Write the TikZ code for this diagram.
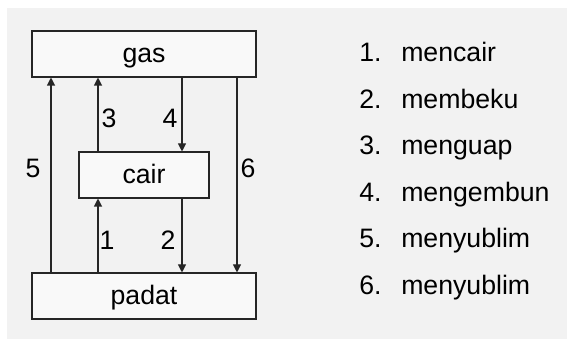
\documentclass[tikz,border=0pt]{standalone}
\usepackage{fontspec}
\setmainfont{Liberation Sans}
\usetikzlibrary{arrows.meta}
\begin{document}
\begin{tikzpicture}[x=0.75pt,y=-0.75pt,
  every node/.style={font=\fontsize{20}{24}\selectfont, inner sep=0pt},
  statebox/.style={draw=black!85, line width=0.8pt, fill=white!40!black!4, text height=13.5pt, text depth=0pt},
  flow/.style={draw=black!85, line width=0.8pt, -{Triangle[length=6pt,width=6pt]}},
  num/.style={anchor=base},
  item/.style={anchor=base west}]
\useasboundingbox (0,0) rectangle (567,341);
\fill[white] (0,0) rectangle (567,341);
\fill[black!5] (7,8) rectangle (567,339);
\node[statebox, minimum width=224*0.75pt, minimum height=46*0.75pt] (gas) at (144,54) {gas};
\node[statebox, minimum width=130*0.75pt, minimum height=46*0.75pt] (cair) at (144,175) {cair};
\node[statebox, minimum width=224*0.75pt, minimum height=46*0.75pt] (padat) at (144,296) {padat};
\coordinate (xa) at (51,0);
\coordinate (xb) at (98,0);
\coordinate (xc) at (182,0);
\coordinate (xd) at (237,0);
\draw[flow] (padat.north -| xa) -- (gas.south -| xa);
\draw[flow] (cair.north -| xb) -- (gas.south -| xb);
\draw[flow] (gas.south -| xc) -- (cair.north -| xc);
\draw[flow] (gas.south -| xd) -- (padat.north -| xd);
\draw[flow] (padat.north -| xb) -- (cair.south -| xb);
\draw[flow] (cair.south -| xc) -- (padat.north -| xc);
\node[num] (l5) at (33,178) {5};
\node[num] (l3) at (109,128) {3};
\node[num] (l4) at (170,128) {4};
\node[num] (l6) at (248,178) {6};
\node[num] (l1) at (107,250) {1};
\node[num] (l2) at (168,250) {2};
\node[item] (n1) at (359,62) {1.};
\node[item] (n2) at (359,108.5) {2.};
\node[item] (n3) at (359,155) {3.};
\node[item] (n4) at (359,201.5) {4.};
\node[item] (n5) at (359,248) {5.};
\node[item] (n6) at (359,294.5) {6.};
\node[item] (w1) at (401,62) {mencair};
\node[item] (w2) at (401,108.5) {membeku};
\node[item] (w3) at (401,155) {menguap};
\node[item] (w4) at (401,201.5) {mengembun};
\node[item] (w5) at (401,248) {menyublim};
\node[item] (w6) at (401,294.5) {menyublim};
\end{tikzpicture}
\end{document}
